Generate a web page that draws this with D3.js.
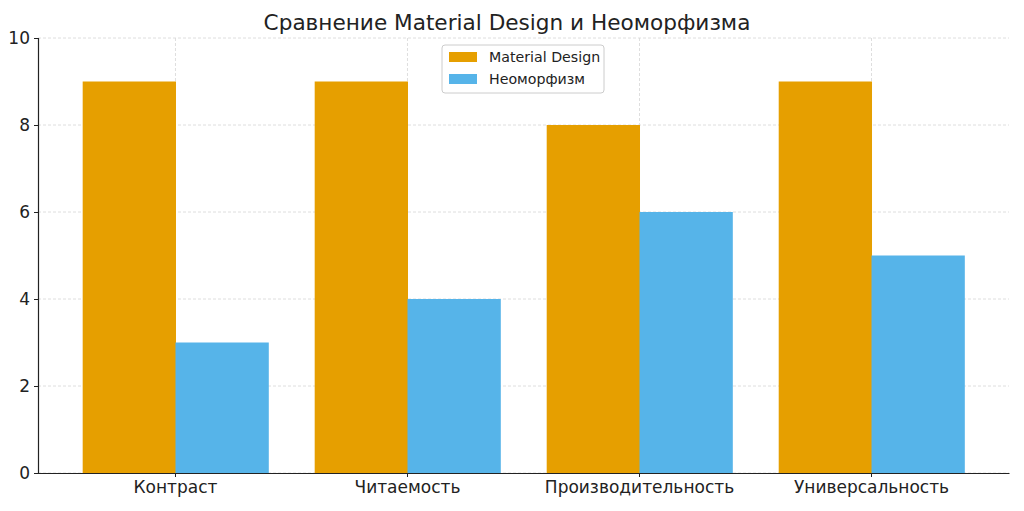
<!DOCTYPE html>
<html>
<head>
<meta charset="utf-8">
<script src="https://cdn.jsdelivr.net/npm/d3@7"></script>
<style>
  body { margin: 0; background: #fff; }
  text { font-family: "DejaVu Sans", sans-serif; }
</style>
</head>
<body>
<svg id="chart"></svg>
<script>
const categories = ["Контраст", "Читаемость", "Производительность", "Универсальность"];
const seriesNames = ["Material Design", "Неоморфизм"];
const materialValues = [9, 9, 8, 9];
const neoValues = [3, 4, 6, 5];
const yTicks = [0, 2, 4, 6, 8, 10];
const colors = ["#E69F00", "#56B4E9"];

const width = 1024;
const height = 511;
const margin = { top: 38, right: 15, bottom: 38, left: 38 };

const svg = d3.select("#chart")
  .attr("width", width)
  .attr("height", height);

const x = d3.scaleBand()
  .domain(categories)
  .range([margin.left, width - margin.right])
  .paddingInner(0.2)
  .paddingOuter(0.1926);

const x1 = d3.scaleBand()
  .domain(seriesNames)
  .range([0, x.bandwidth()]);

const y = d3.scaleLinear()
  .domain([0, 10])
  .range([height - margin.bottom, margin.top]);

// grid
const grid = svg.append("g");
grid.selectAll("line.h")
  .data(yTicks)
  .join("line")
  .attr("x1", margin.left)
  .attr("x2", width - margin.right)
  .attr("y1", d => y(d))
  .attr("y2", d => y(d))
  .attr("stroke", "#d6d6d6")
  .attr("stroke-width", 0.8)
  .attr("stroke-dasharray", "3,2");
grid.selectAll("line.v")
  .data(categories)
  .join("line")
  .attr("x1", d => x(d) + x.bandwidth() / 2)
  .attr("x2", d => x(d) + x.bandwidth() / 2)
  .attr("y1", margin.top)
  .attr("y2", height - margin.bottom)
  .attr("stroke", "#d6d6d6")
  .attr("stroke-width", 0.8)
  .attr("stroke-dasharray", "3,2");

// bars
const rows = categories.map((c, i) => ({ cat: c, vals: [materialValues[i], neoValues[i]] }));
const groups = svg.append("g")
  .selectAll("g")
  .data(rows)
  .join("g")
  .attr("transform", d => "translate(" + x(d.cat) + ",0)");

groups.selectAll("rect")
  .data(d => d.vals.map((v, j) => ({ name: seriesNames[j], value: v, color: colors[j] })))
  .join("rect")
  .attr("x", d => x1(d.name))
  .attr("width", x1.bandwidth() + 0.5)
  .attr("y", d => y(d.value))
  .attr("height", d => y(0) - y(d.value))
  .attr("fill", d => d.color);

// axes
const yAxis = svg.append("g")
  .attr("transform", "translate(" + margin.left + ",0)")
  .call(d3.axisLeft(y).tickValues(yTicks).tickSize(4).tickPadding(4));
yAxis.select(".domain").attr("stroke", "#222").attr("stroke-width", 1.2);
yAxis.selectAll(".tick line").attr("stroke", "#222");
yAxis.selectAll("text").attr("font-size", 17).attr("fill", "#222")
  .style("font-family", "DejaVu Sans");

const xAxis = svg.append("g")
  .attr("transform", "translate(0," + (height - margin.bottom) + ")")
  .call(d3.axisBottom(x).tickSize(4).tickPadding(4).tickSizeOuter(0));
xAxis.select(".domain").attr("stroke", "#222").attr("stroke-width", 1.2);
xAxis.selectAll(".tick line").attr("stroke", "#222");
xAxis.selectAll("text").attr("font-size", 17).attr("fill", "#222")
  .style("font-family", "DejaVu Sans");

// title
svg.append("text")
  .attr("x", 507)
  .attr("y", 30)
  .attr("text-anchor", "middle")
  .attr("font-size", 21.6)
  .attr("fill", "#222")
  .text("Сравнение Material Design и Неоморфизма");

// legend
const legend = svg.append("g").attr("transform", "translate(442,45)");
legend.append("rect")
  .attr("width", 162)
  .attr("height", 48)
  .attr("rx", 3)
  .attr("fill", "#fff")
  .attr("fill-opacity", 0.85)
  .attr("stroke", "#ccc");
const items = legend.selectAll("g.item")
  .data(seriesNames)
  .join("g")
  .attr("transform", (d, i) => "translate(7," + (12 + i * 22) + ")");
items.append("rect")
  .attr("width", 28)
  .attr("height", 10)
  .attr("y", -5)
  .attr("fill", (d, i) => colors[i]);
items.append("text")
  .attr("x", 40)
  .attr("y", 5)
  .attr("font-size", 14.2)
  .attr("fill", "#222")
  .text(d => d);
</script>
</body>
</html>
